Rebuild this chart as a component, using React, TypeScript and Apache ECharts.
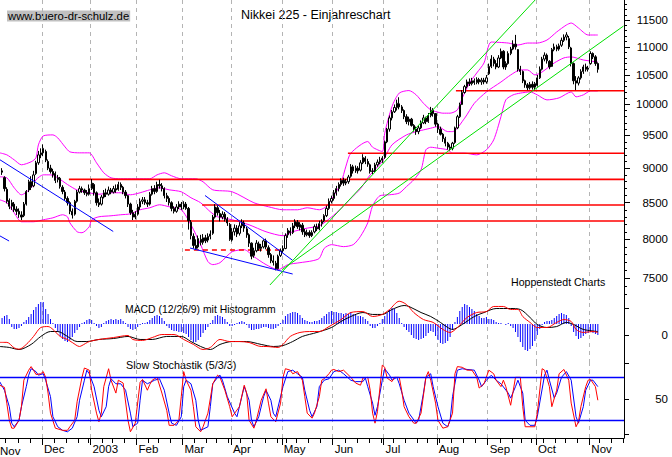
import { useEffect, useRef } from 'react';
import * as echarts from 'echarts';

// ---------- daily prices (open, close, low, high), first bar = trading day 3 (6 Nov 2002) ----------
const FIRST_DAY = 3;
const nov02 = [
  [8960, 8940, 8900, 9000], [8860, 8700, 8660, 8880], [8690, 8520, 8490, 8720], [8530, 8450, 8410, 8560],
  [8450, 8500, 8400, 8540], [8480, 8400, 8370, 8510], [8410, 8380, 8330, 8450], [8380, 8340, 8290, 8420],
  [8330, 8300, 8260, 8380], [8320, 8480, 8300, 8510], [8480, 8660, 8460, 8680], [8680, 8800, 8650, 8830],
  [8800, 8720, 8680, 8880], [8740, 8900, 8720, 8960], [8920, 9080, 8900, 9110], [9080, 9200, 9050, 9260],
  [9200, 9230, 9150, 9300],
];
const dec02 = [
  [9230, 9300, 9180, 9360], [9250, 9120, 9090, 9280], [9100, 9000, 8970, 9130], [9000, 8950, 8920, 9050],
  [8950, 8900, 8860, 8990], [8920, 8820, 8780, 8950], [8830, 8860, 8790, 8900], [8850, 8730, 8700, 8870],
  [8720, 8660, 8620, 8750], [8650, 8560, 8530, 8680], [8560, 8500, 8460, 8590], [8500, 8380, 8340, 8520],
  [8380, 8330, 8280, 8420], [8340, 8520, 8320, 8540], [8520, 8650, 8500, 8680], [8650, 8700, 8630, 8740],
  [8700, 8680, 8640, 8730], [8680, 8640, 8610, 8700], [8640, 8620, 8590, 8680], [8620, 8700, 8600, 8760],
];
const jan03 = [
  [8700, 8780, 8680, 8840], [8760, 8640, 8600, 8780], [8640, 8500, 8460, 8660], [8500, 8470, 8440, 8560],
  [8480, 8580, 8460, 8610], [8580, 8640, 8560, 8680], [8640, 8620, 8580, 8700], [8620, 8680, 8600, 8730],
  [8680, 8650, 8620, 8710], [8650, 8700, 8630, 8740], [8700, 8680, 8640, 8760], [8690, 8760, 8670, 8800],
  [8760, 8720, 8680, 8790], [8720, 8650, 8620, 8740], [8650, 8600, 8560, 8680], [8600, 8480, 8440, 8610],
  [8480, 8360, 8330, 8500], [8360, 8300, 8260, 8400], [8300, 8340, 8270, 8380],
];
const feb03 = [
  [8340, 8440, 8320, 8480], [8440, 8520, 8400, 8560], [8520, 8540, 8480, 8580], [8540, 8500, 8470, 8580],
  [8500, 8480, 8440, 8540], [8480, 8620, 8460, 8650], [8620, 8700, 8600, 8740], [8700, 8660, 8620, 8750],
  [8660, 8760, 8640, 8800], [8760, 8740, 8700, 8830], [8740, 8700, 8660, 8780], [8700, 8600, 8560, 8720],
  [8600, 8560, 8510, 8640], [8560, 8500, 8460, 8590], [8500, 8420, 8380, 8520], [8420, 8380, 8350, 8450],
  [8380, 8440, 8360, 8480], [8440, 8480, 8410, 8520], [8480, 8440, 8400, 8510],
];
const mar03 = [
  [8440, 8480, 8410, 8520], [8480, 8420, 8400, 8510], [8420, 8250, 8130, 8440], [8230, 8050, 8000, 8260],
  [8040, 7920, 7880, 8080], [7920, 7880, 7860, 8000], [7900, 8010, 7880, 8050], [8000, 7960, 7920, 8060],
  [7960, 8020, 7930, 8070], [8020, 7980, 7950, 8060], [7990, 8040, 7960, 8080], [8040, 8070, 8000, 8120],
  [8080, 8300, 8060, 8330], [8300, 8440, 8280, 8480], [8430, 8360, 8320, 8460], [8350, 8300, 8240, 8400],
  [8300, 8340, 8270, 8380], [8340, 8270, 8240, 8370], [8270, 8220, 8180, 8300], [8200, 8000, 7980, 8220],
];
const apr03 = [
  [7990, 8100, 7970, 8150], [8100, 8150, 8050, 8200], [8150, 8070, 8030, 8190], [8080, 8180, 8050, 8230],
  [8180, 8230, 8150, 8270], [8220, 8150, 8100, 8250], [8140, 8060, 8020, 8170], [8060, 7950, 7900, 8080],
  [7950, 7780, 7740, 7960], [7790, 7850, 7760, 7890], [7850, 7950, 7830, 7990], [7940, 7880, 7850, 7970],
  [7880, 7900, 7840, 7940], [7900, 7980, 7880, 8000], [7980, 7900, 7870, 8010], [7890, 7800, 7760, 7920],
  [7800, 7720, 7690, 7820], [7720, 7700, 7660, 7790], [7690, 7620, 7600, 7720], [7620, 7780, 7610, 7800],
  [7790, 7850, 7770, 7880],
];
const may03 = [
  [7850, 7880, 7820, 7920], [7880, 8050, 7870, 8080], [8060, 8120, 8020, 8150], [8110, 8090, 8050, 8160],
  [8090, 8180, 8070, 8220], [8180, 8240, 8150, 8270], [8230, 8170, 8140, 8260], [8160, 8200, 8120, 8230],
  [8190, 8100, 8060, 8220], [8100, 8060, 8030, 8140], [8060, 8090, 8040, 8130], [8090, 8050, 8020, 8120],
  [8050, 8090, 8030, 8120], [8100, 8170, 8080, 8200], [8160, 8140, 8110, 8210], [8140, 8210, 8120, 8250],
  [8210, 8240, 8170, 8270], [8250, 8320, 8230, 8340], [8320, 8420, 8300, 8460], [8420, 8520, 8400, 8560],
  [8520, 8560, 8490, 8600],
];
const jun03 = [
  [8560, 8640, 8530, 8680], [8640, 8700, 8600, 8740], [8700, 8760, 8660, 8790], [8760, 8820, 8730, 8850],
  [8820, 8780, 8740, 8860], [8780, 8800, 8750, 8840], [8800, 8870, 8770, 8900], [8880, 9020, 8860, 9060],
  [9020, 8960, 8920, 9050], [8960, 9000, 8930, 9040], [9000, 8960, 8920, 9030], [8970, 9080, 8950, 9120],
  [9080, 9160, 9060, 9210], [9150, 9100, 9060, 9180], [9100, 9060, 9020, 9140], [9050, 8950, 8920, 9070],
  [8950, 8960, 8910, 9000], [8960, 9050, 8940, 9080], [9050, 9090, 9020, 9130], [9090, 9120, 9060, 9170],
  [9120, 9150, 9080, 9180],
];
const jul03 = [
  [9160, 9400, 9140, 9420], [9400, 9600, 9380, 9620], [9600, 9780, 9560, 9820], [9780, 9880, 9740, 9910],
  [9880, 9950, 9860, 10000], [9950, 10020, 9900, 10080], [10010, 9960, 9920, 10120], [9960, 9900, 9860, 9990],
  [9900, 9800, 9760, 9920], [9800, 9720, 9680, 9840], [9720, 9760, 9660, 9800], [9760, 9660, 9640, 9780],
  [9660, 9600, 9560, 9680], [9600, 9560, 9510, 9640], [9560, 9620, 9520, 9660], [9620, 9700, 9600, 9740],
  [9700, 9780, 9680, 9830], [9780, 9720, 9680, 9800], [9720, 9820, 9700, 9860], [9820, 9900, 9790, 9960],
  [9900, 9850, 9800, 9940], [9850, 9680, 9640, 9860],
];
const aug03 = [
  [9680, 9600, 9540, 9700], [9600, 9520, 9500, 9640], [9520, 9450, 9400, 9540], [9450, 9380, 9330, 9480],
  [9380, 9320, 9280, 9400], [9320, 9300, 9266, 9360], [9300, 9380, 9270, 9400], [9390, 9620, 9370, 9640],
  [9620, 9800, 9600, 9830], [9800, 10000, 9780, 10030], [10000, 10200, 9990, 10240], [10200, 10300, 10180, 10330],
  [10300, 10380, 10270, 10420], [10380, 10350, 10310, 10440], [10350, 10400, 10320, 10450], [10400, 10370, 10330, 10440],
  [10370, 10420, 10340, 10460], [10420, 10380, 10340, 10450], [10380, 10410, 10330, 10450], [10410, 10380, 10340, 10450],
  [10380, 10450, 10350, 10500],
];
const sep03 = [
  [10520, 10650, 10500, 10700], [10650, 10780, 10620, 10850], [10780, 10700, 10650, 10820], [10700, 10640, 10600, 10760],
  [10640, 10800, 10620, 10850], [10800, 10920, 10780, 10970], [10920, 10640, 10600, 10940], [10640, 10700, 10590, 10740],
  [10700, 10880, 10680, 10920], [10880, 10960, 10850, 11000], [10960, 11050, 10940, 11120], [11050, 11000, 10950, 11220],
  [10950, 10600, 10560, 10960], [10600, 10560, 10500, 10660], [10560, 10400, 10360, 10580], [10400, 10330, 10280, 10420],
  [10330, 10280, 10240, 10360], [10280, 10340, 10250, 10380], [10340, 10290, 10250, 10390], [10290, 10350, 10240, 10380],
];
const oct03 = [
  [10320, 10450, 10300, 10500], [10450, 10600, 10430, 10650], [10600, 10780, 10580, 10820], [10780, 10850, 10740, 10900],
  [10850, 10750, 10700, 10880], [10740, 10640, 10600, 10760], [10650, 10950, 10640, 10980], [10950, 11000, 10920, 11060],
  [11000, 10960, 10920, 11040], [10960, 11020, 10930, 11060], [11030, 11120, 11000, 11170], [11120, 11180, 11090, 11230],
  [11180, 11220, 11120, 11270], [11150, 11000, 10960, 11200], [10980, 10700, 10650, 11000], [10700, 10400, 10340, 10720],
  [10400, 10360, 10240, 10480], [10360, 10450, 10320, 10480], [10450, 10560, 10420, 10600], [10560, 10640, 10520, 10680],
  [10640, 10600, 10560, 10700], [10600, 10620, 10560, 10660],
];
const nov03 = [
  [10700, 10880, 10680, 10920], [10880, 10820, 10780, 10900], [10820, 10700, 10660, 10850], [10700, 10600, 10540, 10720],
];
const priceMonths = [nov02, dec02, jan03, feb03, mar03, apr03, may03, jun03, jul03, aug03, sep03, oct03, nov03];

// ---------- Bollinger bands [trading day, level] ----------
const bbUpper = [
  [2, 9231], [5, 9200], [8, 9125], [11, 9050], [15, 9095], [17, 9155], [18, 9353], [20, 9493], [24, 9509], [26, 9462],
  [29, 9322], [31, 9246], [35, 9231], [39, 9231], [42, 9080], [45, 8931], [48, 8857], [52, 8843], [64, 8843], [67, 8901],
  [70, 8931], [73, 8887], [77, 8843], [83, 8843], [86, 8799], [90, 8683], [98, 8655], [107, 8499], [113, 8443], [119, 8401],
  [125, 8401], [129, 8429], [134, 8401], [137, 8450], [140, 8600], [143, 8788], [145, 9030], [147, 9226], [154, 9405],
  [156, 9317], [160, 9251], [161, 9536], [164, 9965], [167, 10190], [171, 10233], [174, 10160], [177, 10020], [180, 9911],
  [182, 9884], [185, 9857], [188, 9857], [191, 9911], [193, 10104], [196, 10360], [199, 10535], [202, 10711], [205, 11088],
  [212, 11070], [216, 11034], [220, 11070], [224, 11070], [228, 11125], [232, 11274], [236, 11405], [238, 11443],
  [241, 11349], [245, 11218], [249, 11218],
];
const bbMiddle = [
  [2, 8872], [5, 8857], [8, 8712], [11, 8612], [15, 8712], [17, 8828], [20, 8901], [23, 8901], [26, 8857], [30, 8760],
  [34, 8680], [39, 8640], [43, 8620], [48, 8641], [52, 8641], [56, 8612], [60, 8641], [64, 8683], [68, 8712], [72, 8683],
  [77, 8655], [81, 8570], [85, 8499], [89, 8373], [92, 8304], [98, 8263], [105, 8195], [112, 8101], [119, 8048], [123, 8101],
  [129, 8150], [134, 8180], [139, 8300], [143, 8420], [147, 8560], [151, 8700], [155, 8900], [160, 9100], [164, 9353],
  [170, 9509], [174, 9561], [177, 9588], [180, 9615], [183, 9641], [187, 9561], [189, 9561], [194, 9776], [198, 10020],
  [203, 10210], [209, 10379], [213, 10500], [217, 10588], [220, 10588], [223, 10501], [226, 10553], [231, 10711],
  [235, 10801], [238, 10819], [243, 10764], [249, 10729],
];
const bbLower = [
  [2, 8541], [5, 8499], [8, 8359], [11, 8236], [16, 8236], [20, 8263], [24, 8290], [28, 8332], [30, 8304], [31, 8222],
  [34, 8101], [36, 8088], [39, 8168], [40, 8263], [43, 8304], [48, 8318], [52, 8332], [56, 8345], [60, 8401], [64, 8429],
  [68, 8471], [72, 8443], [77, 8401], [81, 8195], [85, 7930], [88, 7710], [90, 7672], [93, 7697], [98, 7838], [103, 7864],
  [107, 7774], [112, 7672], [117, 7608], [121, 7672], [126, 7697], [131, 7720], [134, 7752], [136, 7881], [139, 7930],
  [144, 7904], [148, 7930], [151, 8040], [154, 8222], [156, 8457], [159, 8598], [163, 8612], [167, 8636], [170, 8730],
  [173, 8828], [176, 8975], [178, 9277], [180, 9317], [183, 9302], [187, 9277], [189, 9226], [194, 9226], [199, 9200],
  [203, 9277], [206, 9431], [209, 9800], [211, 10076], [214, 10160], [217, 10190], [221, 10210], [224, 10160],
  [228, 10076], [233, 10110], [238, 10210], [240, 10127], [243, 10160], [246, 10227], [249, 10227],
];

// ---------- drawn support / resistance levels and trend lines ----------
const redLevels = [
  { level: 10230, from: 190.4, to: 259.8 },
  { level: 9225, from: 145.8, to: 259.8 },
  { level: 8835, from: 30.6, to: 259.8 },
  { level: 8467, from: 85.6, to: 259.8 },
  { level: 8246, from: 2.15, to: 259.8 },
];
const dashedLevel = { level: 7860, from: 78.5, to: 117.8 };
const blueTrends = [
  [[2.15, 9125], [48.9, 8105]],
  [[2.15, 8045], [5.9, 7978]],
  [[86.8, 8602], [123, 7726]],
  [[80.6, 7886], [123, 7554]],
];
const greenTrends = [
  [[113.6, 7418], [223.1, 11887]],
  [[118.6, 7608], [259.6, 11386]],
];

// ---------- MACD (12/26/9) ----------
const macdLine = [
  [2, -50], [5, -50], [8, -90], [10, -100], [13, -65], [16, -7], [19, 58], [22, 65], [24, 44], [27, -7], [30, -29], [32, -51],
  [35, -80], [36, -73], [39, -44], [43, -29], [49, -15], [55, 0], [57, -29], [61, -36], [65, -15], [69, 7], [74, 7], [78, -29],
  [82, -65], [86, -102], [89, -87], [93, -29], [97, -44], [101, -44], [105, -51], [110, -80], [112, -80], [117, -87], [119, -65],
  [122, -7], [126, 22], [130, 29], [134, 29], [138, 65], [143, 116], [147, 167], [152, 174], [156, 138], [160, 153], [163, 189],
  [167, 249], [170, 225], [173, 167], [177, 116], [181, 95], [185, 44], [188, 22], [191, 58], [195, 131], [199, 167], [203, 174],
  [206, 211], [210, 211], [213, 189], [216, 189], [218, 138], [221, 95], [224, 58], [228, 58], [232, 95], [235, 116], [238, 102],
  [240, 44], [243, 22], [247, 29], [249, 22],
];
const macdSignal = [
  [2, -80], [6, -87], [10, -102], [15, -65], [19, -7], [23, 29], [26, 29], [30, -7], [34, -44], [38, -44], [43, -29], [49, -22],
  [55, -7], [60, -29], [65, -29], [71, -7], [77, -7], [81, -44], [85, -80], [89, -102], [93, -65], [98, -44], [104, -44], [110, -65],
  [115, -80], [119, -73], [123, -44], [127, -7], [133, 22], [139, 58], [143, 102], [147, 138], [152, 167], [156, 153], [160, 153],
  [164, 189], [169, 218], [171, 211], [176, 167], [180, 138], [184, 95], [187, 58], [189, 44], [193, 80], [198, 138], [202, 167],
  [207, 196], [213, 196], [217, 189], [221, 131], [224, 80], [228, 58], [232, 65], [236, 95], [239, 80], [243, 44], [249, 29],
];
// histogram, one value per trading day from FIRST_DAY
const macdHist = [
  6, 8, 9, 5, -3, -5, -5, -4, -2, 2,
  4, 7, 10, 14, 17, 20, 22, 22, 15, 10,
  5, 1, -4, -8, -12, -15, -17, -18, -16, -13,
  -9, -6, -3, 1, 2, 4, 5, 4, 1, -2,
  -4, -3, 1, 3, 4, 5, 4, 5, 4, 5,
  3, 1, -3, -5, -6, -5, -3, -1, 1, 1,
  2, 4, 6, 8, 9, 8, 6, 3, -2, -4,
  -6, -7, -7, -8, -8, -9, -10, -13, -16, -18,
  -18, -16, -13, -9, -6, -3, 1, 4, 8, 9,
  8, 7, 5, 2, -2, -2, -1, 1, 2, 3,
  2, -1, -4, -6, -6, -5, -5, -4, -3, -3,
  -4, -5, -5, -4, -2, 1, 4, 8, 10, 11,
  12, 12, 11, 9, 6, 4, 3, 2, 2, 3,
  3, 4, 6, 8, 10, 12, 13, 12, 12, 11,
  11, 10, 11, 10, 12, 10, 9, 8, 8, 7,
  5, 3, -2, -4, -4, -2, 1, 5, 8, 11,
  14, 16, 15, 11, 6, 1, -3, -6, -8, -11,
  -14, -15, -16, -15, -14, -12, -9, -7, -8, -12,
  -16, -19, -20, -19, -17, -13, -6, 2, 7, 13,
  17, 20, 19, 17, 15, 13, 10, 8, 6, 6,
  7, 5, 5, 4, 2, 1, 1, 0, -1, 1,
  -2, -4, -8, -13, -18, -23, -26, -27, -25, -22,
  -17, -11, -5, -1, 2, 3, 3, 4, 6, 8,
  10, 11, 10, 9, 6, -2, -8, -12, -15, -14,
  -12, -10, -9, -8, -9, -10, -11,
];

// ---------- Slow Stochastik (5/3/3) ----------
const stochK = [
  [2, 69], [4, 66], [5, 43], [6, 20], [7, 9], [8, 9], [10, 20], [11, 39], [12, 76], [14, 90], [15, 95], [16, 90], [17, 84],
  [19, 85], [20, 88], [21, 80], [22, 58], [23, 30], [25, 9], [28, 6], [30, 6], [31, 11], [33, 20], [34, 46], [36, 80], [37, 93],
  [39, 90], [40, 62], [42, 30], [43, 18], [44, 30], [45, 67], [47, 92], [48, 76], [50, 58], [51, 76], [53, 72], [55, 20], [56, 4],
  [58, 16], [60, 73], [61, 77], [63, 62], [64, 70], [65, 76], [67, 80], [69, 58], [71, 34], [72, 13], [74, 13], [76, 20], [77, 53],
  [78, 88], [79, 76], [81, 62], [82, 39], [83, 11], [85, 4], [86, 11], [88, 30], [90, 71], [92, 83], [93, 80], [95, 62], [97, 39],
  [98, 25], [101, 39], [103, 69], [104, 58], [105, 20], [107, 9], [108, 20], [110, 48], [112, 64], [113, 44], [114, 25], [116, 18],
  [118, 44], [119, 80], [120, 92], [122, 90], [123, 85], [125, 88], [127, 76], [128, 53], [129, 30], [131, 23], [132, 30], [134, 53],
  [135, 76], [136, 78], [138, 85], [139, 90], [140, 91], [142, 88], [144, 90], [147, 80], [149, 72], [151, 69], [152, 79], [154, 80],
  [155, 62], [156, 30], [157, 16], [158, 32], [160, 97], [161, 94], [162, 79], [164, 74], [165, 80], [167, 80], [168, 62], [169, 39],
  [171, 25], [173, 16], [174, 16], [176, 30], [178, 80], [179, 88], [180, 76], [182, 44], [183, 20], [185, 9], [187, 11], [189, 30],
  [190, 85], [191, 95], [193, 94], [195, 90], [197, 90], [199, 80], [200, 65], [202, 71], [204, 90], [206, 85], [207, 76], [209, 67],
  [210, 76], [211, 67], [213, 41], [214, 60], [215, 80], [217, 80], [218, 39], [219, 11], [221, 11], [223, 11], [224, 30], [226, 92],
  [227, 90], [229, 67], [230, 39], [232, 62], [233, 85], [235, 91], [237, 76], [238, 44], [240, 11], [241, 18], [242, 39], [244, 67],
  [245, 76], [246, 77], [248, 67], [249, 48],
];
const stochD = [
  [2, 74], [4, 62], [6, 39], [7, 16], [8, 11], [10, 20], [11, 39], [13, 67], [14, 83], [15, 92], [17, 88], [18, 83], [20, 85],
  [21, 76], [23, 53], [24, 25], [26, 11], [28, 6], [30, 4], [32, 9], [34, 25], [35, 48], [37, 76], [38, 90], [39, 85], [41, 67],
  [43, 34], [44, 25], [46, 39], [47, 67], [48, 78], [50, 71], [52, 71], [54, 62], [56, 30], [57, 11], [59, 16], [60, 48], [61, 76],
  [63, 71], [66, 76], [68, 78], [70, 62], [72, 30], [73, 16], [75, 13], [77, 25], [78, 67], [79, 76], [81, 71], [83, 48], [84, 20],
  [85, 6], [88, 11], [89, 39], [90, 71], [92, 80], [93, 83], [94, 76], [96, 53], [99, 30], [100, 25], [102, 53], [103, 67], [105, 48],
  [106, 20], [107, 11], [109, 25], [111, 53], [112, 62], [114, 48], [115, 30], [116, 25], [119, 67], [121, 88], [123, 90], [125, 85],
  [127, 80], [128, 62], [130, 34], [131, 25], [133, 39], [134, 67], [136, 76], [138, 78], [140, 88], [142, 90], [144, 85], [147, 76],
  [149, 74], [152, 74], [153, 79], [154, 67], [156, 44], [157, 27], [158, 39], [160, 76], [161, 92], [163, 83], [164, 76], [166, 80],
  [167, 71], [169, 48], [171, 30], [174, 16], [175, 20], [177, 58], [178, 80], [180, 85], [181, 67], [183, 39], [185, 16], [187, 11],
  [188, 20], [189, 53], [191, 90], [193, 92], [195, 91], [198, 90], [200, 76], [201, 67], [203, 76], [205, 83], [207, 76], [209, 71],
  [212, 58], [213, 51], [215, 67], [216, 76], [218, 58], [219, 20], [221, 13], [223, 13], [224, 25], [227, 83], [228, 90], [229, 76],
  [231, 51], [232, 58], [234, 80], [236, 88], [238, 76], [240, 25], [241, 16], [243, 39], [244, 62], [246, 76], [247, 76], [249, 67],
];

// ---------- axes ----------
const monthStarts = [19.5, 39.5, 58.5, 77.5, 97.5, 118.5, 139.5, 160.5, 182.5, 203.5, 223.5, 245.5];
const monthNames = ['Dec', '2003', 'Feb', 'Mar', 'Apr', 'May', 'Jun', 'Jul', 'Aug', 'Sep', 'Oct', 'Nov'];
const weekStarts = [
  4.5, 9.5, 14.5, 19.5, 24.5, 29.5, 34.5, 38.5, 44.5, 48.5, 53.5, 58.5, 63.5, 67.5, 72.5, 77.5, 82.5, 87.5, 91.5, 96.5,
  101.5, 106.5, 111.5, 116.5, 120.5, 124.5, 129.5, 134.5, 139.5, 144.5, 149.5, 154.5, 159.5, 164.5, 169.5, 174.5, 178.5,
  183.5, 188.5, 193.5, 198.5, 203.5, 208.5, 213.5, 217.5, 221.5, 226.5, 231.5, 235.5, 240.5, 245.5, 249.5, 254.5, 259.5,
];
const priceLabels = [7500, 8000, 8500, 9000, 9500, 10000, 10500, 11000, 11500];
const X_MIN = 2.15;
const X_MAX = 259.8;
const P_MIN = 7236;
const P_MAX = 11887;

const FONT = "'Liberation Sans', Arial, Helvetica, sans-serif";
const L = Math.log;

function buildOption() {
  const candles: number[][] = [];
  let day = FIRST_DAY;
  priceMonths.forEach((m) => m.forEach(([o, c, l, h]) => { candles.push([day, L(o), L(c), L(l), L(h)]); day += 1; }));

  const minorTicks: number[] = [];
  for (let v = 7300; v <= 11800; v += 100) minorTicks.push(L(v));

  const logPairs = (arr: number[][]) => arr.map(([x, v]) => [x, L(v)]);
  const seg = (data: number[][], color: string, width: number, z: number, xi = 0, yi = 0, type: any = 'solid') => ({
    type: 'line', xAxisIndex: xi, yAxisIndex: yi, data, symbol: 'none', silent: true, z,
    lineStyle: { color, width, type }, itemStyle: { color }, emphasis: { disabled: true },
  });

  const monthMarks = {
    silent: true, symbol: ['none', 'none'], z: 1, label: { show: false }, emphasis: { disabled: true },
    lineStyle: { color: '#b4b4b4', type: [4, 4], width: 1 },
    data: monthStarts.map((v) => ({ xAxis: v })),
  };

  const series: any[] = [];
  [[0, 0], [1, 2], [2, 4]].forEach(([xi, yi]) => series.push({
    type: 'line', xAxisIndex: xi, yAxisIndex: yi, data: [], silent: true, markLine: monthMarks,
  }));

  // Bollinger bands
  [bbUpper, bbMiddle, bbLower].forEach((b) => series.push({ ...seg(logPairs(b), '#ff00ff', 1, 2), smooth: 0.25 }));
  // red horizontal levels
  redLevels.forEach((r) => series.push(seg([[r.from, L(r.level)], [r.to, L(r.level)]], '#ff0000', 1.6, 3)));
  series.push(seg([[dashedLevel.from, L(dashedLevel.level)], [dashedLevel.to, L(dashedLevel.level)]], '#ff0000', 1.6, 3, 0, 0, [5, 4]));
  // candles
  series.push({
    type: 'candlestick', xAxisIndex: 0, yAxisIndex: 0, data: candles, barWidth: 1.8, silent: true, z: 4,
    itemStyle: { color: '#ffffff', color0: '#000000', borderColor: '#000000', borderColor0: '#000000', borderWidth: 1 },
  });
  // trend lines
  blueTrends.forEach((t) => series.push(seg(logPairs(t), '#0000ff', 1, 5)));
  greenTrends.forEach((t) => series.push(seg(logPairs(t), '#00e000', 1, 5)));

  // MACD
  series.push({
    type: 'bar', xAxisIndex: 1, yAxisIndex: 3, barWidth: 1, silent: true, z: 2,
    data: macdHist.map((v, j) => [FIRST_DAY + j, v]), itemStyle: { color: '#0000ff' },
  });
  series.push({ ...seg(macdSignal, '#000000', 1, 3, 1, 2), smooth: 0.3 });
  series.push({ ...seg(macdLine, '#ff0000', 1, 4, 1, 2), smooth: 0.3 });

  // Stochastic
  series.push({
    ...seg(stochD, '#0000ff', 1, 3, 2, 4),
    markLine: {
      silent: true, symbol: ['none', 'none'], label: { show: false }, emphasis: { disabled: true },
      lineStyle: { color: '#0000ff', width: 1.3, type: 'solid' }, data: [{ yAxis: 20 }, { yAxis: 80 }],
    },
  });
  series.push(seg(stochK, '#ff0000', 1, 4, 2, 4));

  const axisLine = { show: true, onZero: false, lineStyle: { color: '#000', width: 1 } };
  const labelBase = { fontSize: 11.5, fontFamily: FONT, color: '#000' };
  const hiddenX = (g: number) => ({ type: 'value', gridIndex: g, min: X_MIN, max: X_MAX, show: false, axisLine: { onZero: false } });

  return {
    animation: false,
    backgroundColor: '#ffffff',
    grid: [
      { left: 0, right: 48, top: 0, height: 300, containLabel: false, outerBoundsMode: 'none' },
      { left: 0, right: 48, top: 300, height: 63, containLabel: false, outerBoundsMode: 'none' },
      { left: 0, right: 48, top: 363, height: 75, containLabel: false, outerBoundsMode: 'none' },
    ],
    xAxis: [
      hiddenX(0),
      hiddenX(1),
      {
        type: 'value', gridIndex: 2, min: X_MIN, max: X_MAX, position: 'bottom', axisLine,
        axisTick: { show: true, customValues: monthStarts, length: 7, lineStyle: { color: '#000' } },
        axisLabel: {
          ...labelBase, show: true, customValues: monthStarts, align: 'left', margin: 5, padding: [0, 0, 0, 2],
          formatter: (v: number) => {
            const k = monthStarts.findIndex((m) => Math.abs(m - v) < 0.01);
            return k >= 0 ? monthNames[k] : '';
          },
        },
        splitLine: { show: false },
      },
      {
        type: 'value', gridIndex: 2, min: X_MIN, max: X_MAX, position: 'bottom',
        axisLine: { show: false, onZero: false },
        axisTick: { show: true, customValues: weekStarts, length: 5, lineStyle: { color: '#000' } },
        axisLabel: { show: false }, splitLine: { show: false },
      },
    ],
    yAxis: [
      {
        type: 'value', gridIndex: 0, position: 'right', min: L(P_MIN), max: L(P_MAX), axisLine,
        axisTick: { show: true, customValues: minorTicks, length: 3, lineStyle: { color: '#000' } },
        axisLabel: { show: false }, splitLine: { show: false },
      },
      {
        type: 'value', gridIndex: 0, position: 'right', min: L(P_MIN), max: L(P_MAX),
        axisLine: { show: false, onZero: false },
        axisTick: { show: true, customValues: priceLabels.map(L), length: 6, lineStyle: { color: '#000' } },
        axisLabel: {
          ...labelBase, show: true, customValues: priceLabels.map(L), align: 'right', margin: 44,
          formatter: (v: number) => String(Math.round(Math.exp(v))),
        },
        splitLine: { show: false },
      },
      {
        type: 'value', gridIndex: 1, position: 'right', min: -200, max: 258, axisLine,
        axisTick: { show: true, customValues: [-200, 0, 200], length: 5, lineStyle: { color: '#000' } },
        axisLabel: { ...labelBase, show: true, customValues: [0], align: 'right', margin: 44, formatter: () => '0' },
        splitLine: { show: false },
      },
      { type: 'value', gridIndex: 1, min: -39, max: 24, show: false, axisLine: { onZero: false } },
      {
        type: 'value', gridIndex: 2, position: 'right', min: -4.7, max: 100, axisLine,
        axisTick: { show: true, customValues: [0, 50, 100], length: 5, lineStyle: { color: '#000' } },
        axisLabel: { ...labelBase, show: true, customValues: [50], align: 'right', margin: 44 },
        splitLine: { show: false },
      },
    ],
    graphic: [
      {
        type: 'text', x: 7, y: 16, silent: true,
        style: {
          text: 'www.buero-dr-schulz.de', fontSize: 11.3, fontFamily: FONT, fill: '#000',
          backgroundColor: '#c0c0c0', padding: [0, 1, 0, 1], lineHeight: 11, verticalAlign: 'middle',
        },
      },
      { type: 'text', x: 241, y: 15, silent: true, style: { text: 'Nikkei 225 - Einjahreschart', fontSize: 12.5, fontFamily: FONT, fill: '#000', verticalAlign: 'middle' } },
      { type: 'text', x: 511, y: 282, silent: true, style: { text: 'Hoppenstedt Charts', fontSize: 10.6, fontFamily: FONT, fill: '#000', verticalAlign: 'middle' } },
      { type: 'text', x: 125, y: 309, silent: true, style: { text: 'MACD (12/26/9) mit Histogramm', fontSize: 10.4, fontFamily: FONT, fill: '#000', verticalAlign: 'middle' } },
      { type: 'text', x: 126, y: 365, silent: true, style: { text: 'Slow Stochastik (5/3/3)', fontSize: 10.8, fontFamily: FONT, fill: '#000', verticalAlign: 'middle' } },
      { type: 'text', x: 0, y: 451, silent: true, style: { text: 'Nov', fontSize: 11.5, fontFamily: FONT, fill: '#000', verticalAlign: 'middle' } },
    ],
    series,
  };
}

export default function App() {
  const ref = useRef<HTMLDivElement>(null);
  useEffect(() => {
    document.body.style.margin = '0';
    if (!ref.current) return undefined;
    const chart = echarts.init(ref.current, null, { renderer: 'svg' });
    chart.setOption(buildOption() as any);
    return () => chart.dispose();
  }, []);
  return <div ref={ref} style={{ width: 672, height: 457, background: '#fff' }} />;
}
